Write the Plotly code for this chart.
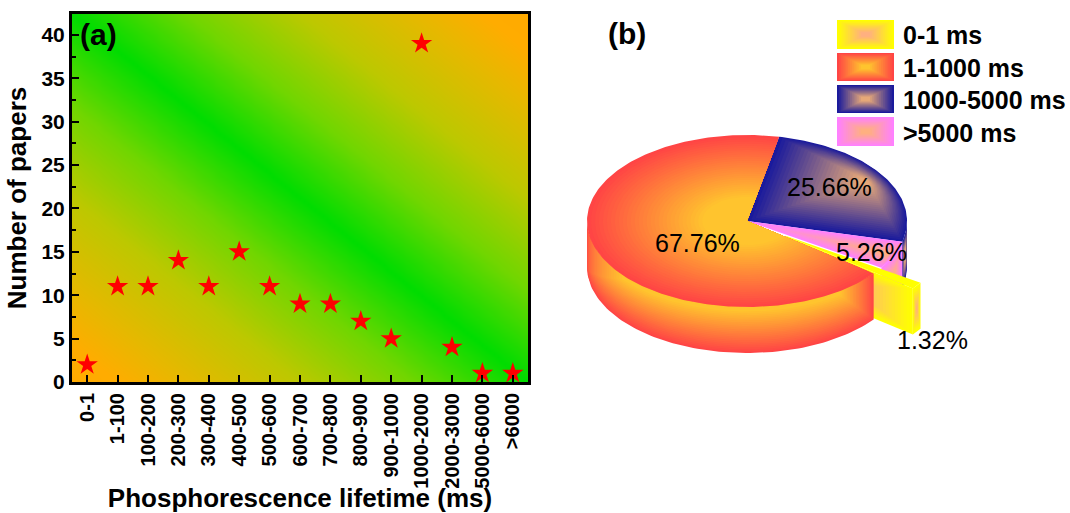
import numpy as np
import plotly.graph_objects as go

# ---------- data ----------
lifetime_bins = ["0-1", "1-100", "100-200", "200-300", "300-400", "400-500", "500-600", "600-700",
                 "700-800", "800-900", "900-1000", "1000-2000", "2000-3000", "5000-6000", ">6000"]
paper_counts = [2, 11, 11, 14, 11, 15, 11, 9, 9, 7, 5, 39, 4, 1, 1]
y_ticks = [0, 5, 10, 15, 20, 25, 30, 35, 40]

pie_labels = ["0-1 ms", "1-1000 ms", "1000-5000 ms", ">5000 ms"]
pie_shares = [1.32, 67.76, 25.66, 5.26]
pie_edge = ["#FFFF00", "#FF4545", "#1A1A9C", "#FF80FF"]
pie_core = ["#FFB080", "#FFC42E", "#E6A878", "#FFB080"]

W, H = 1070, 513
BLACK = "#000000"
FONT = "Liberation Sans"


def mix(c1, c2, t):
    a = [int(c1[i:i + 2], 16) for i in (1, 3, 5)]
    b = [int(c2[i:i + 2], 16) for i in (1, 3, 5)]
    return "rgb(%d,%d,%d)" % tuple(round(p + (q - p) * t) for p, q in zip(a, b))


fig = go.Figure()

# ---------- (a) gradient background + stars ----------
n = len(lifetime_bins)
YTOP = 42.4
gu = np.linspace(0, 1, 121)
bg_x = -0.5 + gu * n
bg_y = gu * YTOP
bg_z = np.abs(gu[:, None] + gu[None, :] - 1)
fig.add_trace(go.Heatmap(x=bg_x, y=bg_y, z=bg_z, zsmooth="best", showscale=False, hoverinfo="skip",
                         colorscale=[[0, "#00DC00"], [0.25, "#70D600"], [0.5, "#BCC800"],
                                     [0.75, "#E6B800"], [0.9, "#FFAC00"], [1, "#FFAA00"]],
                         zmin=0, zmax=1, xaxis="x", yaxis="y"))
fig.add_trace(go.Scatter(x=list(range(n)), y=paper_counts, mode="markers", showlegend=False,
                         marker=dict(symbol="star", size=16, color="#FF0000", line=dict(width=0)),
                         xaxis="x", yaxis="y"))

# ---------- (b) 3-D pie, built on a unit-circle axis pair ----------
CX, CY, RX, RY = 747.0, 221.0, 160.0, 86.0      # pixel frame of the unit circle
DOM = (575.0, 945.0, 125.0, 365.0)
T = 46.0 / RY                                    # pie thickness in y units
EXPLODE = 0.3


def add_poly(xs, ys, color):
    fig.add_trace(go.Scatter(x=list(xs), y=list(ys), mode="lines", fill="toself", fillcolor=color,
                             line=dict(width=0), hoverinfo="skip", showlegend=False,
                             xaxis="x2", yaxis="y2"))


def arc(a0, a1, r=1.0, num=90):
    th = np.radians(np.linspace(a0, a1, num))
    return r * np.sin(th), r * np.cos(th)


def nested(xs, ys, edge, core, layers=22, smin=0.08, focus=None):
    xs, ys = np.asarray(xs, float), np.asarray(ys, float)
    fx, fy = (xs.mean(), ys.mean()) if focus is None else focus
    for k in range(layers):
        t = k / (layers - 1)
        s = 1 - t * (1 - smin)
        add_poly(fx + (xs - fx) * s, fy + (ys - fy) * s, mix(edge, core, t))


def band(a0, a1, edge, core, layers=24, in0=18.0, in1=42.0):
    """Side wall between angles a0..a1, shaded from its bottom and ends towards the top edge."""
    for k in range(layers):
        t = k / (layers - 1)
        m = t * 0.92
        x, y = arc(a0 + m * in0, a1 - m * in1)
        add_poly(np.r_[x, x[::-1]], np.r_[y, (y - T + m * T * 0.98)[::-1]], mix(edge, core, t))


YEL, RED, BLU, PNK = 0, 1, 2, 3
a_blue0 = 11.6
a_blue1 = a_blue0 + pie_shares[BLU] * 3.6
a_pink1 = a_blue1 + pie_shares[PNK] * 3.6
a_yel1 = a_pink1 + pie_shares[YEL] * 3.6
a_red1 = a_yel1 + pie_shares[RED] * 3.6

# blue and pink side walls
x, y = arc(90, a_blue1, num=20)
nested(np.r_[x, x[::-1]], np.r_[y, y[::-1] - T], pie_edge[BLU], pie_core[BLU], layers=8, smin=0.3)
x, y = arc(a_blue1, a_pink1, num=30)
nested(np.r_[x, x[::-1]], np.r_[y, y[::-1] - T], pie_edge[PNK], pie_core[PNK], layers=12, smin=0.2)

# blue and pink top faces
x, y = arc(a_blue0, a_blue1)
nested(np.r_[0, x], np.r_[0, y], pie_edge[BLU], pie_core[BLU], layers=26, smin=0.08)
x, y = arc(a_blue1, a_pink1, num=30)
nested(np.r_[0, x], np.r_[0, y], pie_edge[PNK], pie_core[PNK], layers=16, smin=0.1)

# exploded yellow slice
mid = np.radians((a_pink1 + a_yel1) / 2)
ox, oy = EXPLODE * np.sin(mid), EXPLODE * np.cos(mid)
x, y = arc(a_pink1, a_yel1, num=10)
x, y = x + ox, y + oy
# wall
nested(np.r_[x, x[::-1]], np.r_[y, y[::-1] - T], pie_edge[YEL], pie_core[YEL], layers=8, smin=0.1)
# cut face
fx = [ox, x[-1], x[-1], ox]
fy = [oy, y[-1], y[-1] - T, oy - T]
nested(fx, fy, pie_edge[YEL], pie_core[YEL], layers=20, smin=0.1)
# top
add_poly(np.r_[ox, x], np.r_[oy, y], pie_edge[YEL])

# red wall + top
band(a_yel1, 270, pie_edge[RED], pie_core[RED])
x, y = arc(a_yel1, a_red1, num=220)
for k in range(30):
    t = k / 29
    s = 1 - t * 0.72
    add_poly(np.r_[0, s * x], np.r_[0, s * y], mix(pie_edge[RED], pie_core[RED], t))

# ---------- legend swatches ----------
shapes = []
swatches = [(20, 49), (53, 81), (85, 113), (117, 146)]
SX0, SX1 = 837.0, 894.0
for (top, bot), edge, core in zip(swatches, pie_edge, pie_core):
    for k in range(14):
        t = k / 13
        ix = t * 0.42 * (SX1 - SX0)
        iy = t * 0.42 * (bot - top)
        shapes.append(dict(type="rect", xref="paper", yref="paper", layer="above",
                           x0=(SX0 + ix) / W, x1=(SX1 - ix) / W,
                           y0=1 - (bot - iy) / H, y1=1 - (top + iy) / H,
                           line=dict(width=0), fillcolor=mix(edge, core, t)))

# ---------- text ----------
def note(px, py, text, size, bold=False, anchor="center"):
    return dict(xref="paper", yref="paper", x=px / W, y=1 - py / H, text=f"<b>{text}</b>" if bold else text,
                showarrow=False, xanchor=anchor, yanchor="middle",
                font=dict(family=FONT, size=size, color=BLACK))


annotations = [note(98, 34, "(a)", 30, True), note(627, 33, "(b)", 30, True)]
for (top, bot), lab in zip(swatches, pie_labels):
    annotations.append(note(901, (top + bot) / 2 + 1, lab, 25, True, "left"))
pct_pos = [(932, 340), (697, 243), (829, 187), (871, 252)]
for (px, py), v in zip(pct_pos, pie_shares):
    annotations.append(note(px, py, f"{v:.2f}%", 25))

# ---------- layout ----------
fig.update_layout(
    width=W, height=H, margin=dict(l=0, r=0, t=0, b=0), autosize=False,
    paper_bgcolor="white", plot_bgcolor="white", showlegend=False,
    shapes=shapes, annotations=annotations,
    font=dict(family=FONT, color=BLACK),
    xaxis=dict(domain=[72 / W, 528 / W], range=[-0.5, n - 0.5], anchor="y", automargin=False,
               tickmode="array", tickvals=list(range(n)), ticktext=lifetime_bins,
               tickangle=-90, tickfont=dict(size=20, family=FONT, color=BLACK, weight="bold"),
               ticks="inside", ticklen=7, tickwidth=2, tickcolor=BLACK,
               showline=True, linecolor=BLACK, linewidth=3, mirror=True, showgrid=False, zeroline=False,
               title=dict(text="<b>Phosphorescence lifetime (ms)</b>", standoff=0,
                          font=dict(size=26, family=FONT, color=BLACK))),
    yaxis=dict(domain=[1 - 382 / H, 1 - 14 / H], range=[0, YTOP], anchor="x", automargin=False,
               tickmode="array", tickvals=y_ticks,
               tickfont=dict(size=21, family=FONT, color=BLACK, weight="bold"),
               ticks="inside", ticklen=7, tickwidth=2, tickcolor=BLACK,
               minor=dict(dtick=2.5, ticks="inside", ticklen=4, tickwidth=2, tickcolor=BLACK),
               showline=True, linecolor=BLACK, linewidth=3, mirror=True, showgrid=False, zeroline=False,
               title=dict(text="<b>Number of papers</b>", standoff=8,
                          font=dict(size=26, family=FONT, color=BLACK))),
    xaxis2=dict(domain=[DOM[0] / W, DOM[1] / W], range=[(DOM[0] - CX) / RX, (DOM[1] - CX) / RX],
                anchor="y2", visible=False, fixedrange=True, automargin=False),
    yaxis2=dict(domain=[1 - DOM[3] / H, 1 - DOM[2] / H], range=[(CY - DOM[3]) / RY, (CY - DOM[2]) / RY],
                anchor="x2", visible=False, fixedrange=True, automargin=False),
)

fig.write_html("out.html", config=dict(displayModeBar=False),
               post_script="document.body.style.margin='0';document.documentElement.style.overflow='hidden';")
